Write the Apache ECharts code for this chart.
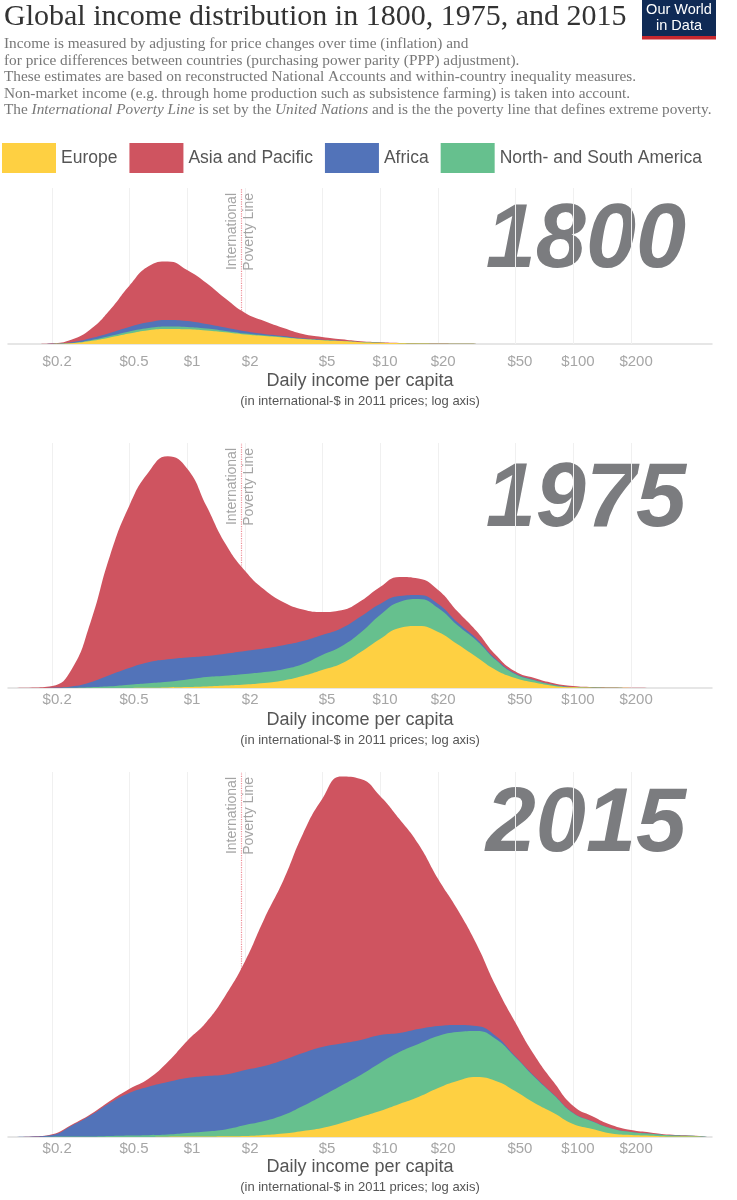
<!DOCTYPE html>
<html>
<head>
<meta charset="utf-8">
<script src="https://cdn.jsdelivr.net/npm/echarts@6/dist/echarts.min.js"></script>
<style>
  html, body { margin: 0; padding: 0; background: #fff; }
  #chart { width: 737px; height: 1200px; }
</style>
</head>
<body>
<div id="chart"></div>
<script>
// daily income per capita (international-$), points where the curves were read (10 per decade)
const incomes = [0.126, 0.158, 0.2, 0.251, 0.316, 0.398, 0.501, 0.631, 0.794, 1, 1.26, 1.58, 2, 2.51, 3.16, 3.98, 5.01, 6.31, 7.94, 10, 12.6, 15.8, 20, 25.1, 31.6, 39.8, 50.1, 63.1, 79.4, 100, 126, 158, 200, 251, 316, 398, 501];

const tickValues = [0.2, 0.5, 1, 2, 5, 10, 20, 50, 100, 200];
const tickLabels = ['$0.2', '$0.5', '$1', '$2', '$5', '$10', '$20', '$50', '$100', '$200'];
const povertyLine = 1.9;

const years = ['1800', '1975', '2015'];
// stack order, bottom layer first
const regions = ['Europe', 'North- and South America', 'Africa', 'Asia and Pacific'];
const legendOrder = ['Europe', 'Asia and Pacific', 'Africa', 'North- and South America'];
const regionColors = ['#fed042', '#66c08e', '#5273b9', '#cf5460'];

// relative density of people (same scale in all three panels)
const europe1800   = [0,0,0.1,0.7,2.9,6.5,10.5,13.8,15,14.7,13.5,11.7,9.5,8,6.6,5,3.8,2.9,1.8,1.2,0.8,0.5,0.3,0.2,0.1,0.05,0.03,0,0,0,0,0,0,0,0,0,0];
const americas1800 = [0,0,0,0.2,0.9,1.5,2,2.2,2.5,2.3,2,1.4,1,0.7,0.5,0.2,0.2,0.1,0.1,0,0,0,0,0,0,0,0,0,0,0,0,0,0,0,0,0,0];
const africa1800   = [0,0,0.2,0.8,1.9,3,4.5,5.7,6.5,6,4.5,3.3,2.2,1.3,0.9,0.5,0.3,0.2,0.1,0.1,0,0,0,0,0,0,0,0,0,0,0,0,0,0,0,0,0];
const asia1800     = [0,0,0.4,2.6,9,23,41,56,58.5,51,41,29,18.3,13,8,4.3,2.7,1.5,0.7,0.4,0.2,0.1,0.1,0,0,0,0,0,0,0,0,0,0,0,0,0,0];

const europe1975   = [0,0,0,0,0,0,0.1,0.25,0.6,1,1.5,2.4,3.5,5,7.6,12,18,24.5,36,49,60,62,56,44,31,18,10,5.4,2.1,0.7,0.35,0.2,0.1,0.05,0,0,0];
const americas1975 = [0,0,0.1,0.3,0.8,1.7,3.2,4.5,5.6,7.5,9.5,9.9,10.5,11,11.2,12,15,17.3,19.5,24,26,27,24,19,16.5,10,4,2.3,1,0.3,0.15,0.1,0,0,0,0,0];
const africa1975   = [0,0,0.2,1.2,5,11.3,16.7,21,22.5,22,21,22,23,23.5,24,23,20,18,16,11,6,4,4,3,2,1,0.7,0.4,0.2,0,0,0,0,0,0,0,0];
const asia1975     = [0,0.4,1.7,16.5,60,119,162,190,203,189,150,110,80,59,43,31.5,23,18,15.5,17,19,16.5,14,11,7.5,4,2,1.8,1.5,1,0.5,0.2,0.1,0,0,0,0];

const europe2015   = [0,0,0,0,0,0,0,0.1,0.3,0.4,0.5,0.75,1,2,3.5,6,9,14,20,26,33,40,49,56,60,56,46,34,24,13,8,3.5,2,1.3,0.6,0.4,0.2];
const americas2015 = [0,0,0.3,0.4,0.5,1,1.5,1.7,2.2,3.6,5,6.8,11,14,18.5,25,32,37.5,42,48,52,53,52,49,46,42,34,26,18,11,7.5,5,3,2,1.2,0.8,0.3];
const africa2015   = [0,0.4,1.7,10.6,21,33,42.5,48.5,52.5,55,55.5,55,55,55,55,53,49,42,35,28,19,15,10,7,5,3,1,0.8,0.5,0.3,0.2,0.1,0,0,0,0,0];
const asia2015     = [0,0.1,0.7,1,1.2,2,4,8,20,37,54,79,109,147,180,219,248,267,261,239,214,185,147,116,82,50,34,21,12.5,7,5,3.4,2,1.3,0.6,0.3,0.2];

const panelData = [
  [europe1800, americas1800, africa1800, asia1800],
  [europe1975, americas1975, africa1975, asia1975],
  [europe2015, americas2015, africa2015, asia2015]
];

// layout of the three panels (1 density unit = 1 px, so the scale is shared)
const panels = [
  { top: 188, height: 156, labelMargin: 10, nameGap: 27, yearY: 242 },
  { top: 443, height: 245, labelMargin: 4,  nameGap: 22, yearY: 501 },
  { top: 772, height: 365, labelMargin: 4,  nameGap: 20, yearY: 826 }
];

const sans = "'Liberation Sans', Arial, sans-serif";
const serif = "'Liberation Serif', 'DejaVu Serif', serif";
const xMin = Math.log10(0.118);
const xMax = Math.log10(525);

const tickFormatter = (v) => {
  for (let i = 0; i < tickValues.length; i++) {
    if (Math.abs(Math.log10(tickValues[i]) - v) < 1e-6) return tickLabels[i];
  }
  return '';
};

const grids = [], xAxes = [], yAxes = [], series = [], yearTexts = [];

panels.forEach((p, i) => {
  grids.push({ left: 8, right: 25, top: p.top, height: p.height });
  xAxes.push({
    gridIndex: i,
    type: 'value',
    min: xMin,
    max: xMax,
    axisLine: { show: true, lineStyle: { color: '#dedede', width: 1.5 } },
    axisTick: { show: false },
    splitLine: { show: false },
    axisLabel: {
      customValues: tickValues.map(Math.log10),
      formatter: tickFormatter,
      color: '#a6a6a6',
      fontSize: 15,
      fontFamily: sans,
      padding: [0, 0, 0, 10],
      margin: p.labelMargin
    },
    name: '{a|Daily income per capita}\n{b|(in international-$ in 2011 prices; log axis)}',
    nameLocation: 'middle',
    nameGap: p.nameGap,
    nameTextStyle: {
      rich: {
        a: { fontSize: 18, color: '#555', fontFamily: sans, lineHeight: 21 },
        b: { fontSize: 13, color: '#555', fontFamily: sans, lineHeight: 19 }
      }
    }
  });
  yAxes.push({ gridIndex: i, type: 'value', min: 0, max: p.height, show: false });

  // stacked layers: each area is drawn from the baseline up to the running total,
  // topmost layer first so the lower layers paint over it
  const layers = panelData[i];
  const running = layers.map((_, r) =>
    incomes.map((x, k) => {
      let sum = 0;
      for (let j = 0; j <= r; j++) sum += layers[j][k];
      return Math.round(sum * 100) / 100;
    })
  );

  for (let r = layers.length - 1; r >= 0; r--) {
    const s = {
      name: regions[r],
      type: 'line',
      xAxisIndex: i,
      yAxisIndex: i,
      smooth: 0.5,
      symbol: 'none',
      z: 3,
      lineStyle: { width: 0 },
      itemStyle: { color: regionColors[r] },
      areaStyle: { color: regionColors[r], opacity: 1 },
      data: incomes.map((x, k) => [Math.log10(x), running[r][k]])
    };
    if (r === layers.length - 1) {
      s.markLine = {
        silent: true,
        z: 1,
        symbol: ['none', 'none'],
        animation: false,
        data: tickValues.map(t => ({
          xAxis: Math.log10(t),
          lineStyle: { color: '#f0f0f0', type: 'solid', width: 1 },
          label: { show: false }
        })).concat([{
          xAxis: Math.log10(povertyLine),
          lineStyle: { color: '#ee8f98', type: 'dotted', width: 1.2 },
          label: {
            show: true,
            position: 'insideEnd',
            formatter: 'International\nPoverty Line',
            color: '#a4a4a4',
            fontSize: 14,
            lineHeight: 17,
            fontFamily: sans
          }
        }])
      };
    }
    series.push(s);
  }

  yearTexts.push({
    type: 'text',
    x: 686,
    y: p.yearY,
    style: {
      text: years[i],
      align: 'right',
      verticalAlign: 'middle',
      fontSize: 90,
      fontWeight: 'bold',
      fontStyle: 'italic',
      fontFamily: sans,
      fill: '#7b7c7f'
    }
  });
});

const chart = echarts.init(document.getElementById('chart'), null, { renderer: 'canvas' });

chart.setOption({
  animation: false,
  backgroundColor: '#fff',
  title: {
    left: 4,
    top: 2,
    padding: 0,
    itemGap: 4,
    text: 'Global income distribution in 1800, 1975, and 2015',
    textStyle: { fontFamily: serif, fontSize: 30, fontWeight: 'normal', color: '#333' },
    subtext: [
      'Income is measured by adjusting for price changes over time (inflation) and',
      'for price differences between countries (purchasing power parity (PPP) adjustment).',
      'These estimates are based on reconstructed National Accounts and within-country inequality measures.',
      'Non-market income (e.g. through home production such as subsistence farming) is taken into account.',
      'The {i|International Poverty Line} is set by the {i|United Nations} and is the the poverty line that defines extreme poverty.'
    ].join('\n'),
    subtextStyle: {
      fontFamily: serif,
      fontSize: 15.3,
      lineHeight: 16.5,
      color: '#777',
      rich: {
        i: { fontFamily: serif, fontSize: 15.3, lineHeight: 16.5, color: '#777', fontStyle: 'italic' }
      }
    }
  },
  legend: {
    data: legendOrder,
    left: 2,
    top: 143,
    padding: 0,
    icon: 'rect',
    itemWidth: 54,
    itemHeight: 30,
    itemGap: 12,
    selectedMode: false,
    textStyle: { fontSize: 17.5, color: '#555', fontFamily: sans }
  },
  grid: grids,
  xAxis: xAxes,
  yAxis: yAxes,
  series: series,
  graphic: yearTexts.concat([
    {
      type: 'group',
      left: 642,
      top: 0,
      children: [
        { type: 'rect', shape: { x: 0, y: 0, width: 74, height: 36 }, style: { fill: '#0f2a55' } },
        { type: 'rect', shape: { x: 0, y: 36, width: 74, height: 3.5 }, style: { fill: '#c8282e' } },
        {
          type: 'text',
          x: 37,
          y: 18,
          style: {
            text: 'Our World\nin Data',
            align: 'center',
            verticalAlign: 'middle',
            fontSize: 14.5,
            lineHeight: 16,
            fontFamily: sans,
            fill: '#fff'
          }
        }
      ]
    }
  ])
});
</script>
</body>
</html>
